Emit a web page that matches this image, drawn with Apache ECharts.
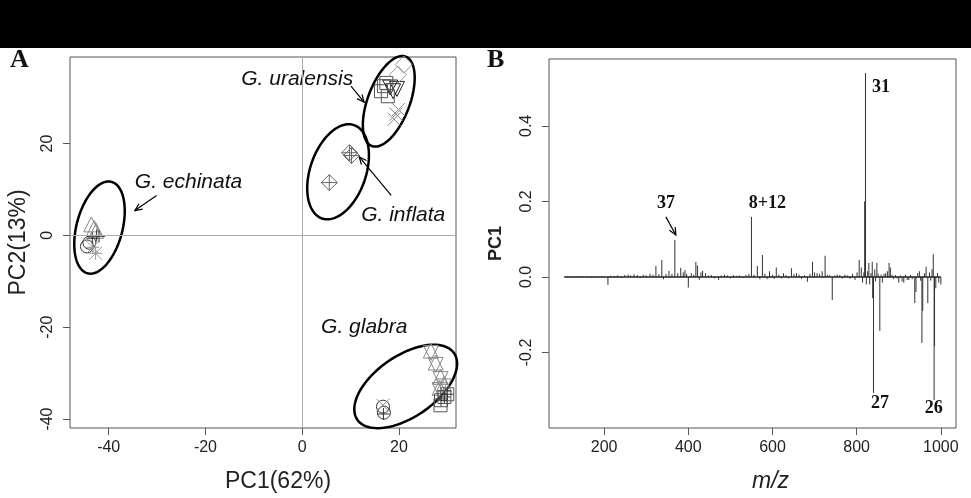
<!DOCTYPE html>
<html>
<head>
<meta charset="utf-8" />
<title>PCA scores and PC1 loadings</title>
<style>
html,body{margin:0;padding:0;background:#fff}
#main{width:971px;height:498px}
</style>
</head>
<body>
<div id="main"></div>
<script src="https://cdn.jsdelivr.net/npm/echarts@6/dist/echarts.min.js"></script>
<script>
// ---------- Panel A : PCA scores ----------
var ticksAx = [-40, -20, 0, 20];
var ticksAy = [-40, -20, 0, 20];

// symbol groups (PC1, PC2)
var triUpPts = [[-43.6, 2.4], [-43.0, 1.6], [-42.6, 1.0], [26.6, -25.1], [27.6, -27.7], [28.6, -30.8], [29.3, -32.4], [28.4, -33.2]];
var triDownPts = [[26.6, -25.6], [27.6, -28.2], [28.6, -31.3], [29.3, -32.9], [28.4, -33.7]];
var triDownDarkPts = [[18.8, 31.4], [19.6, 31.9], [18.2, 32.2]];
var squarePts = [[16.9, 32.5], [16.3, 31.4], [17.7, 30.3], [17.4, 33.2], [28.7, -35.9], [29.4, -35.2], [30.0, -34.6], [28.6, -37.0]];
var diamondPts = [[21.0, 37.2], [19.8, 35.0]];
var diamondPlusPts = [[9.8, 18.0], [10.2, 17.4], [5.6, 11.5]];
var circlePts = [[-44.5, -2.4], [-44.0, -1.6], [16.7, -37.3], [16.9, -38.6]];
var xPts = [[19.4, 26.4], [19.0, 25.3], [19.9, 27.4], [16.7, -37.0]];
var asteriskPts = [[-42.7, -3.9], [-43.3, -2.6]];
var plusPts = [[-42.5, 0.0], [-43.4, -0.6], [-42.0, -0.2], [16.8, -38.9], [28.7, -35.9], [29.4, -35.2], [30.0, -34.6]];

// confidence ellipses: centre, first and second semi-axis vectors (data units)
var ellipses = [
  [-41.9, 1.7, 2.47, 9.96, 4.6, -1.26],
  [17.9, 29.2, 3.5, 9.74, 4.06, -1.6],
  [7.42, 13.85, 3.3, 10.17, 5.46, -1.95],
  [21.4, -32.9, 10.0, 7.25, 3.6, -5.48]
];

var labelsA = ['G. uralensis', 'G. echinata', 'G. inflata', 'G. glabra'];
var labelPosA = [[-12.6, 34.0], [-34.6, 11.7], [12.2, 4.3], [3.9, -19.9]];
var arrowsA = [[10.1, 32.5, 12.8, 29.0], [-30.1, 8.7, -34.6, 5.4], [18.4, 8.7, 11.8, 17.1]];

// ---------- Panel B : PC1 loadings ----------
var ticksBx = [200, 400, 600, 800, 1000];
var ticksBy = [-0.2, 0.0, 0.2, 0.4];

var mzValues = [112, 118, 126, 135, 143, 150, 161, 170, 178, 186, 195, 209, 215, 224, 232, 241, 249, 257, 263, 271,
  279, 286, 293, 300, 309, 316, 323, 330, 337, 341, 347, 354, 361, 368, 375, 382, 388, 392, 396, 400,
  407, 413, 418, 422, 426, 430, 434, 441, 448, 455, 463, 472, 478, 486, 493, 500, 507, 515, 522, 530,
  537, 544, 550, 556, 564, 570, 576, 582, 587, 593, 600, 604, 609, 615, 621, 626, 632, 638, 645, 651,
  657, 663, 669, 676, 683, 689, 695, 700, 706, 712, 718, 725, 730, 736, 742, 748, 754, 760, 766, 772,
  778, 784, 790, 796, 801, 806, 811, 814, 817, 819, 821, 823, 826, 829, 831, 834, 837, 838, 840, 843,
  845, 848, 851, 855, 858, 861, 865, 869, 873, 877, 880, 884, 888, 892, 896, 900, 904, 908, 912, 916,
  920, 924, 928, 932, 938, 941, 945, 949, 952, 955, 957, 961, 965, 969, 973, 976, 979, 982, 984, 985,
  988, 992, 995, 1000];
var pc1Loadings = [0.002, -0.002, 0.002, 0.001, -0.002, 0.002, 0.001, -0.002, 0.002, 0.001, 0.002, -0.021, 0.003, 0.002, 0.004, -0.003, 0.005, 0.006, 0.004, 0.007,
  0.005, -0.003, 0.006, 0.004, 0.008, 0.006, 0.029, 0.007, 0.045, -0.006, 0.008, 0.016, 0.008, 0.098, 0.010, 0.024, 0.012, 0.018, 0.008, -0.028,
  0.010, 0.006, 0.040, 0.030, -0.008, 0.012, 0.016, 0.010, 0.004, 0.005, -0.004, -0.008, 0.004, 0.006, 0.004, -0.004, 0.005, 0.003, 0.004, -0.003,
  0.005, 0.008, 0.159, 0.006, 0.029, -0.006, 0.058, 0.008, -0.006, 0.015, 0.006, -0.005, 0.025, 0.006, -0.004, 0.010, 0.005, -0.004, 0.023, 0.008,
  0.010, 0.006, -0.005, 0.004, -0.013, 0.008, 0.040, 0.012, 0.010, 0.008, 0.015, 0.056, 0.006, 0.005, -0.061, 0.004, 0.006, 0.005, -0.004, 0.006,
  0.004, -0.005, 0.008, -0.008, 0.012, 0.045, 0.025, -0.015, 0.012, 0.200, 0.540, -0.020, 0.015, 0.037, -0.020, 0.010, 0.040, -0.056, -0.307, 0.020,
  -0.012, 0.037, 0.008, -0.143, 0.006, -0.015, 0.008, 0.010, 0.015, 0.037, 0.025, 0.006, -0.006, 0.005, -0.004, -0.015, 0.004, -0.012, -0.015, 0.006,
  -0.008, -0.008, 0.005, -0.006, -0.069, -0.040, 0.010, 0.015, -0.010, -0.175, -0.090, 0.010, 0.027, -0.069, 0.012, -0.010, 0.020, 0.060, -0.326, -0.183,
  -0.030, 0.010, -0.015, -0.020];
var baseRange = [[105, 0], [1000, 0]];

var labelsB = ['31', '37', '8+12', '27', '26'];
var labelPosB = [[836.7, 0.503], [346.7, 0.196], [588, 0.196], [855.6, -0.334], [983.4, -0.347]];
var labelAlignB = ['left', 'center', 'center', 'center', 'center'];
var arrowsB = [[346.7, 0.159, 370.4, 0.111]];

// ---------- helpers ----------
var SANS = '"Liberation Sans", Arial, sans-serif';
var SERIF = '"Liberation Serif", "Times New Roman", serif';
var SYM_X = 'path://M0,0L10,10M10,0L0,10';
var SYM_PLUS = 'path://M5,0L5,10M0,5L10,5';
var SYM_AST = 'path://M0,0L10,10M10,0L0,10M5,0L5,10M0,5L10,5';
var SYM_DIAPLUS = 'path://M5,0L10,5L5,10L0,5ZM5,0L5,10M0,5L10,5';

function renderEllipse(params, api) {
  var e = ellipses[params.dataIndex];
  var pts = [];
  for (var k = 0; k <= 96; k++) {
    var t = k / 96 * Math.PI * 2;
    pts.push(api.coord([e[0] + e[2] * Math.cos(t) + e[4] * Math.sin(t),
                        e[1] + e[3] * Math.cos(t) + e[5] * Math.sin(t)]));
  }
  return {type: 'polyline', shape: {points: pts}, style: {fill: 'none', stroke: '#000', lineWidth: 2.5}};
}

function renderArrow(params, api) {
  var p1 = api.coord([api.value(0), api.value(1)]);
  var p2 = api.coord([api.value(2), api.value(3)]);
  var ang = Math.atan2(p2[1] - p1[1], p2[0] - p1[0]);
  var h = 8, w = 0.42;
  var l = [p2[0] - h * Math.cos(ang - w), p2[1] - h * Math.sin(ang - w)];
  var r = [p2[0] - h * Math.cos(ang + w), p2[1] - h * Math.sin(ang + w)];
  return {type: 'group', children: [
    {type: 'line', shape: {x1: p1[0], y1: p1[1], x2: p2[0], y2: p2[1]}, style: {stroke: '#000', lineWidth: 1.2}},
    {type: 'polyline', shape: {points: [l, p2, r]}, style: {stroke: '#000', fill: 'none', lineWidth: 1.2}}
  ]};
}

function textRenderer(texts, font, aligns) {
  return function (params, api) {
    var p = api.coord([api.value(0), api.value(1)]);
    return {type: 'text', x: p[0], y: p[1], style: {
      text: texts[params.dataIndex], font: font, fill: '#111',
      align: aligns ? aligns[params.dataIndex] : 'left', verticalAlign: 'middle'}};
  };
}

function renderStick(params, api) {
  var b = api.coord([api.value(0), 0]);
  var t = api.coord([api.value(0), api.value(1)]);
  return {type: 'line', shape: {x1: b[0], y1: b[1], x2: t[0], y2: t[1]}, style: {stroke: '#333', lineWidth: 1}};
}

function scatter(name, pts, symbol, size, color, rotate) {
  return {
    name: name, type: 'scatter', xAxisIndex: 0, yAxisIndex: 0, data: pts,
    symbol: symbol, symbolSize: size, symbolRotate: rotate || 0,
    itemStyle: {color: 'none', borderColor: color, borderWidth: 1, opacity: 1},
    silent: true
  };
}

function valueAxis(grid, min, max, ticks, opts) {
  var a = {
    gridIndex: grid, type: 'value', min: min, max: max,
    axisLine: {show: false, onZero: false},
    splitLine: {show: false},
    axisTick: {show: true, length: 7, customValues: ticks, lineStyle: {color: '#555'}},
    axisLabel: {customValues: ticks, fontSize: 16, color: '#222', fontFamily: SANS, margin: 12,
      formatter: function (v) { return String(v); }},
    nameLocation: 'middle'
  };
  for (var k in opts) {
    if (k === 'axisLabel') { for (var j in opts[k]) a.axisLabel[j] = opts[k][j]; }
    else a[k] = opts[k];
  }
  return a;
}

var sticks = mzValues.map(function (m, i) { return [m, pc1Loadings[i]]; });

var chart = echarts.init(document.getElementById('main'));
chart.setOption({
  animation: false,
  backgroundColor: '#fff',
  graphic: [
    {type: 'rect', shape: {x: 0, y: 0, width: 971, height: 48}, style: {fill: '#000'}, z: 100},
    {type: 'text', x: 10, y: 47, style: {text: 'A', font: 'bold 26px ' + SERIF, fill: '#111'}},
    {type: 'text', x: 487, y: 47, style: {text: 'B', font: 'bold 26px ' + SERIF, fill: '#111'}}
  ],
  grid: [
    {left: 70, top: 57, width: 386, height: 373, show: true, borderColor: '#555', borderWidth: 1, backgroundColor: 'transparent'},
    {left: 549, top: 59, width: 407, height: 369, show: true, borderColor: '#555', borderWidth: 1, backgroundColor: 'transparent'}
  ],
  xAxis: [
    valueAxis(0, -48, 31.8, ticksAx, {
      name: 'PC1(62%)', nameGap: 42,
      nameTextStyle: {fontSize: 23, fontFamily: SANS, color: '#222', padding: [0, 0, 0, 30]}
    }),
    valueAxis(1, 69, 1036, ticksBx, {
      name: 'm/z', nameGap: 42,
      nameTextStyle: {fontSize: 23, fontFamily: SANS, fontStyle: 'italic', color: '#222', padding: [0, 0, 0, 36]}
    })
  ],
  yAxis: [
    valueAxis(0, -41.95, 38.85, ticksAy, {
      name: 'PC2(13%)', nameGap: 40,
      nameTextStyle: {fontSize: 23, fontFamily: SANS, color: '#222'},
      axisLabel: {rotate: 90, margin: 14}
    }),
    valueAxis(1, -0.40, 0.577, ticksBy, {
      name: 'PC1', nameGap: 44,
      nameTextStyle: {fontSize: 18, fontFamily: SANS, fontWeight: 'bold', color: '#222'},
      axisLabel: {rotate: 90, margin: 14, formatter: function (v) { return v.toFixed(1); }}
    })
  ],
  series: [
    {
      type: 'scatter', xAxisIndex: 0, yAxisIndex: 0, data: [], silent: true,
      markLine: {
        silent: true, symbol: 'none', label: {show: false},
        lineStyle: {color: '#aaa', type: 'solid', width: 1},
        data: [{xAxis: 0}, {yAxis: 0}]
      }
    },
    scatter('triUp', triUpPts, 'triangle', 15, '#888'),
    scatter('triDown', triDownPts, 'triangle', 15, '#888', 180),
    scatter('triDownDark', triDownDarkPts, 'triangle', 15, '#222', 180),
    scatter('square', squarePts, 'rect', 13, '#555'),
    scatter('diamond', diamondPts, 'diamond', 17, '#999'),
    scatter('diamondPlus', diamondPlusPts, SYM_DIAPLUS, 16, '#666'),
    scatter('circle', circlePts, 'circle', 13, '#333'),
    scatter('x', xPts, SYM_X, 13, '#888'),
    scatter('asterisk', asteriskPts, SYM_AST, 13, '#999'),
    scatter('plus', plusPts, SYM_PLUS, 12, '#333'),
    {
      type: 'custom', xAxisIndex: 0, yAxisIndex: 0, silent: true, clip: false,
      data: ellipses.map(function (e) { return [e[0], e[1]]; }),
      renderItem: renderEllipse
    },
    {
      type: 'custom', xAxisIndex: 0, yAxisIndex: 0, silent: true, clip: false,
      data: arrowsA, encode: {x: [0, 2], y: [1, 3]}, renderItem: renderArrow
    },
    {
      type: 'custom', xAxisIndex: 0, yAxisIndex: 0, silent: true, clip: false,
      data: labelPosA, renderItem: textRenderer(labelsA, 'italic 21px ' + SANS)
    },
    {
      type: 'line', xAxisIndex: 1, yAxisIndex: 1, data: baseRange, symbol: 'none', silent: true,
      lineStyle: {color: '#222', width: 1.5}
    },
    {
      type: 'custom', xAxisIndex: 1, yAxisIndex: 1, silent: true,
      data: sticks, renderItem: renderStick
    },
    {
      type: 'custom', xAxisIndex: 1, yAxisIndex: 1, silent: true, clip: false,
      data: arrowsB, encode: {x: [0, 2], y: [1, 3]}, renderItem: renderArrow
    },
    {
      type: 'custom', xAxisIndex: 1, yAxisIndex: 1, silent: true, clip: false,
      data: labelPosB, renderItem: textRenderer(labelsB, 'bold 18px ' + SERIF, labelAlignB)
    }
  ]
});
</script>
</body>
</html>
